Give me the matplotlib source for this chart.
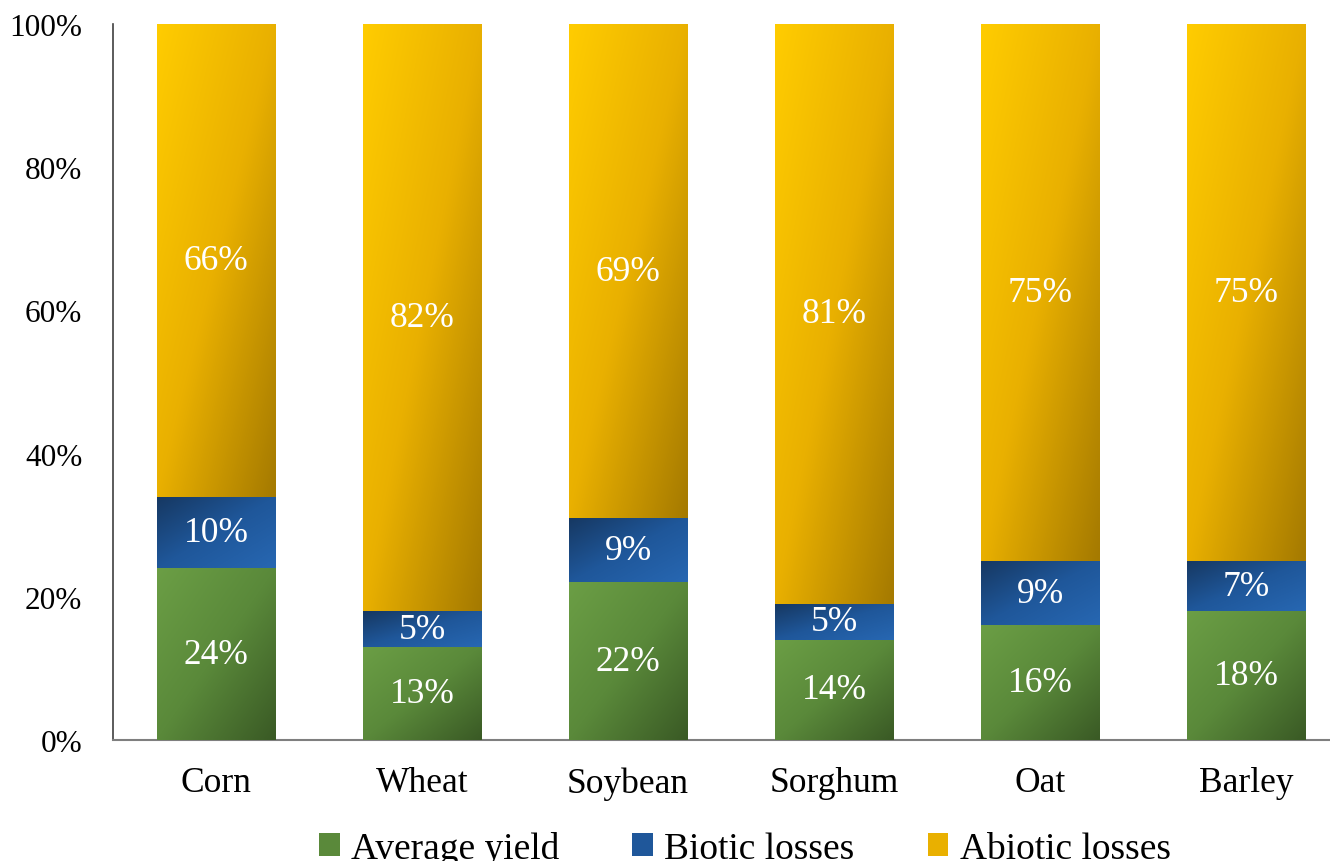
import matplotlib
matplotlib.use("Agg")
import matplotlib.pyplot as plt
from matplotlib.colors import LinearSegmentedColormap
from matplotlib.patches import Patch
import numpy as np

plt.rcParams['font.family'] = ['Liberation Serif', 'DejaVu Serif']

# data
crops = ["Corn", "Wheat", "Soybean", "Sorghum", "Oat", "Barley"]
average_yield = [24, 13, 22, 14, 16, 18]
biotic_losses = [10, 5, 9, 5, 9, 7]
abiotic_losses = [66, 82, 69, 81, 75, 75]
series_names = ["Average yield", "Biotic losses", "Abiotic losses"]
y_ticks = [0, 20, 40, 60, 80, 100]

# gradient colours: top-left -> bottom-right
grad_colors = [
    ["#6b9e45", "#5a893a", "#3a5a25"],
    ["#163862", "#1f579a", "#2767b2"],
    ["#ffcc00", "#e9b000", "#a57a00"],
]
solid_colors = ["#5a893a", "#1f579a", "#e9b000"]

fig = plt.figure(figsize=(13.3, 8.62), dpi=100)
ax = fig.add_axes([113 / 1330, 121 / 862, 1217 / 1330, 716 / 862])

x = np.arange(len(crops))
width = 0.573

# diagonal gradient field
h, w = 60, 60
ii, jj = np.mgrid[0:h, 0:w]
field = (ii / (h - 1) + jj / (w - 1)) / 2

bottoms = np.zeros(len(crops))
for k, vals in enumerate([average_yield, biotic_losses, abiotic_losses]):
    cmap = LinearSegmentedColormap.from_list("g%d" % k, grad_colors[k])
    bars = ax.bar(x, vals, width, bottom=bottoms, color=solid_colors[k],
                  edgecolor='none', zorder=2)
    for bar, v in zip(bars, vals):
        x0, y0 = bar.get_x(), bar.get_y()
        bw, bh = bar.get_width(), bar.get_height()
        im = ax.imshow(field, cmap=cmap, extent=(x0, x0 + bw, y0, y0 + bh),
                       origin='upper', aspect='auto', zorder=3,
                       interpolation='bilinear')
        im.set_clip_path(bar)
        ax.text(x0 + bw / 2, y0 + bh / 2, "%d%%" % v, ha='center', va='center',
                color='white', fontsize=25.5, zorder=4)
    bottoms += np.array(vals)

ax.set_xlim(-0.5, -0.5 + 1217 / 206)
ax.set_ylim(0, 100)
ax.set_yticks(y_ticks)
ax.set_yticklabels(["%d%%" % t for t in y_ticks])
ax.set_xticks(x)
ax.set_xticklabels(crops)
ax.tick_params(axis='y', length=0, pad=22, labelsize=22.5)
ax.tick_params(axis='x', length=0, pad=19, labelsize=25.5)

for s in ['top', 'right']:
    ax.spines[s].set_visible(False)
ax.spines['left'].set_color('#404040')
ax.spines['left'].set_linewidth(1.2)
ax.spines['bottom'].set_color('#7f7f7f')
ax.spines['bottom'].set_linewidth(1.5)

handles = [Patch(facecolor=c, edgecolor='none') for c in solid_colors]
fig.legend(handles, series_names, loc='center', bbox_to_anchor=(0.56, 0.015),
           ncol=3, frameon=False, fontsize=27, handlelength=0.55,
           handleheight=0.55, handletextpad=0.3, columnspacing=1.95)

fig.savefig("out.png", dpi=100)
